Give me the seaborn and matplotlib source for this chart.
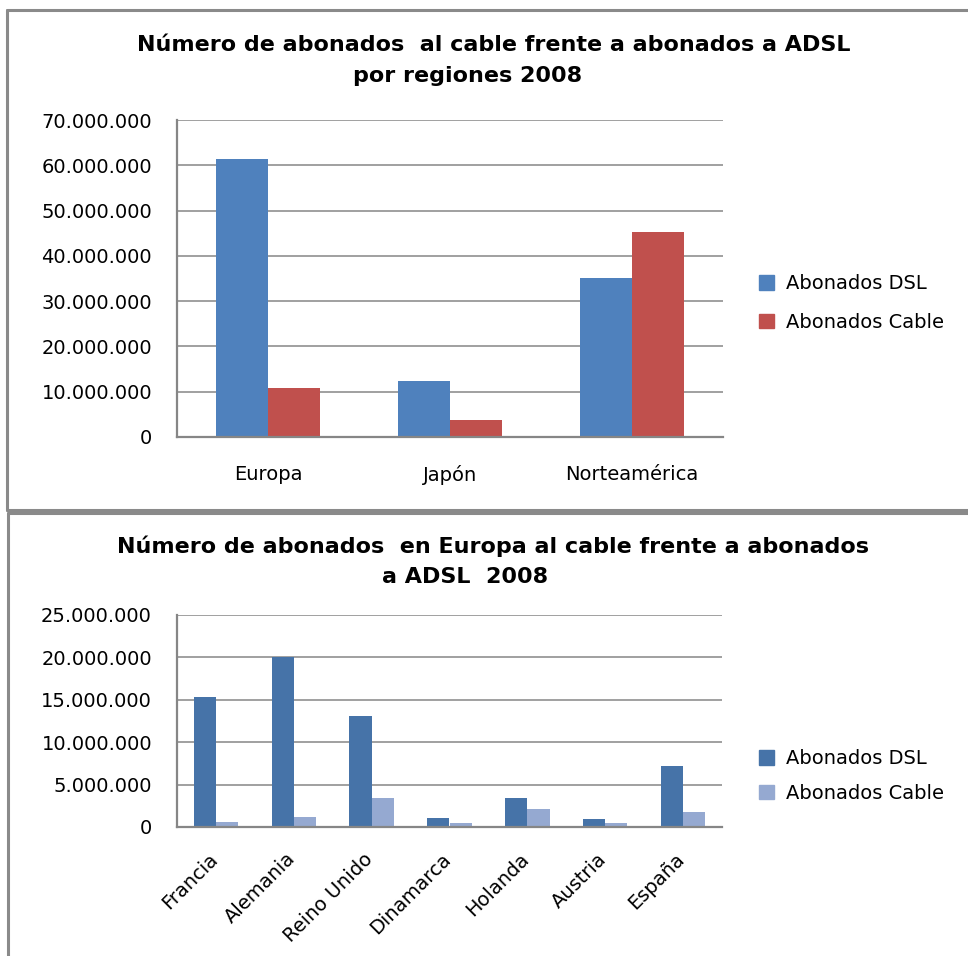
import numpy as np
import pandas as pd
import matplotlib
matplotlib.use('Agg')
import matplotlib.pyplot as plt
from matplotlib.lines import Line2D
from matplotlib.ticker import FuncFormatter
from matplotlib.transforms import ScaledTranslation
import seaborn as sns

sns.set_theme(style="white")
plt.rcParams['font.family'] = ['DejaVu Sans']
plt.rcParams['text.color'] = 'black'

# ---- data ----
regions = ['Europa', 'Japón', 'Norteamérica']
reg_dsl = [61_400_000, 12_400_000, 35_100_000]
reg_cable = [10_900_000, 3_800_000, 45_300_000]

countries = ['Francia', 'Alemania', 'Reino Unido', 'Dinamarca', 'Holanda', 'Austria', 'España']
eu_dsl = [15_350_000, 20_100_000, 13_100_000, 1_100_000, 3_450_000, 1_000_000, 7_200_000]
eu_cable = [630_000, 1_220_000, 3_450_000, 510_000, 2_150_000, 510_000, 1_800_000]

series = ['Abonados DSL', 'Abonados Cable']

W, H = 968, 956
fig = plt.figure(figsize=(W / 100, H / 100), dpi=100)
GRID = '#868686'


def px_axes(left, top, right, bottom):
    return fig.add_axes([left / W, 1 - bottom / H, (right - left) / W, (bottom - top) / H])


def dots(v, _):
    return f'{int(round(v)):,}'.replace(',', '.')


def style(ax, ymax, step, pad_x):
    ax.set_ylim(0, ymax)
    ax.set_yticks(np.arange(0, ymax + 1, step))
    ax.yaxis.set_major_formatter(FuncFormatter(dots))
    ax.grid(axis='y', color=GRID, linewidth=1.1)
    ax.set_axisbelow(True)
    for s in ['top', 'right']:
        ax.spines[s].set_visible(False)
    for s in ['left', 'bottom']:
        ax.spines[s].set_color(GRID)
        ax.spines[s].set_linewidth(1.6)
    ax.tick_params(axis='y', length=0, pad=18, labelsize=14, labelcolor='black')
    ax.tick_params(axis='x', length=0, pad=pad_x, labelsize=14, labelcolor='black')
    ax.set_xlabel('')
    ax.set_ylabel('')
    ax.get_legend().remove()


# ---- top chart ----
df1 = pd.DataFrame({'Región': regions * 2,
                    'Serie': [series[0]] * 3 + [series[1]] * 3,
                    'Valor': reg_dsl + reg_cable})
ax1 = px_axes(177, 120, 723, 437)
sns.barplot(data=df1, x='Región', y='Valor', hue='Serie', ax=ax1,
            palette=['#4F81BD', '#C0504D'], width=0.571, gap=0, saturation=1,
            linewidth=0)
ax1.set_xlim(-0.5, 2.5)
style(ax1, 70_000_000, 10_000_000, 20)
fig.text(494 / W, 1 - 45 / H, 'Número de abonados  al cable frente a abonados a ADSL',
         ha='center', va='center', fontsize=16, fontweight='bold')
fig.text(468 / W, 1 - 76 / H, 'por regiones 2008',
         ha='center', va='center', fontsize=16, fontweight='bold')
h1 = [plt.Rectangle((0, 0), 1, 1, color=c) for c in ['#4F81BD', '#C0504D']]
fig.legend(h1, series, loc='center left', bbox_to_anchor=(741 / W, 1 - 303 / H),
           frameon=False, fontsize=14, handlelength=0.8, handleheight=0.8,
           labelspacing=1.0, handletextpad=0.6)

# ---- bottom chart ----
df2 = pd.DataFrame({'País': countries * 2,
                    'Serie': [series[0]] * 7 + [series[1]] * 7,
                    'Valor': eu_dsl + eu_cable})
ax2 = px_axes(177, 615, 722, 827)
sns.barplot(data=df2, x='País', y='Valor', hue='Serie', ax=ax2,
            palette=['#4673A8', '#95A9D1'], width=0.571, gap=0, saturation=1,
            linewidth=0)
ax2.set_xlim(-0.5, 6.5)
style(ax2, 25_000_000, 5_000_000, 16)
shift = ScaledTranslation(-8 / 100, 0, fig.dpi_scale_trans)
for lab in ax2.get_xticklabels():
    lab.set_rotation(45)
    lab.set_ha('right')
    lab.set_rotation_mode('anchor')
    lab.set_transform(lab.get_transform() + shift)
fig.text(493 / W, 1 - 546 / H, 'Número de abonados  en Europa al cable frente a abonados',
         ha='center', va='center', fontsize=16, fontweight='bold')
fig.text(465 / W, 1 - 577 / H, 'a ADSL  2008',
         ha='center', va='center', fontsize=16, fontweight='bold')
h2 = [plt.Rectangle((0, 0), 1, 1, color=c) for c in ['#4673A8', '#95A9D1']]
fig.legend(h2, series, loc='center left', bbox_to_anchor=(741 / W, 1 - 776 / H),
           frameon=False, fontsize=14, handlelength=0.8, handleheight=0.8,
           labelspacing=0.8, handletextpad=0.6)

# ---- panel borders ----
BORDER = '#8a8a8a'
for (x0, y0, x1, y1) in [(7, 10, 968, 10), (7, 10, 7, 510), (7, 510, 968, 510),
                         (8, 513, 968, 513), (8, 513, 8, 956)]:
    fig.add_artist(Line2D([x0 / W, x1 / W], [1 - y0 / H, 1 - y1 / H],
                          color=BORDER, linewidth=2.2, transform=fig.transFigure))

fig.savefig('out.png', dpi=100)
